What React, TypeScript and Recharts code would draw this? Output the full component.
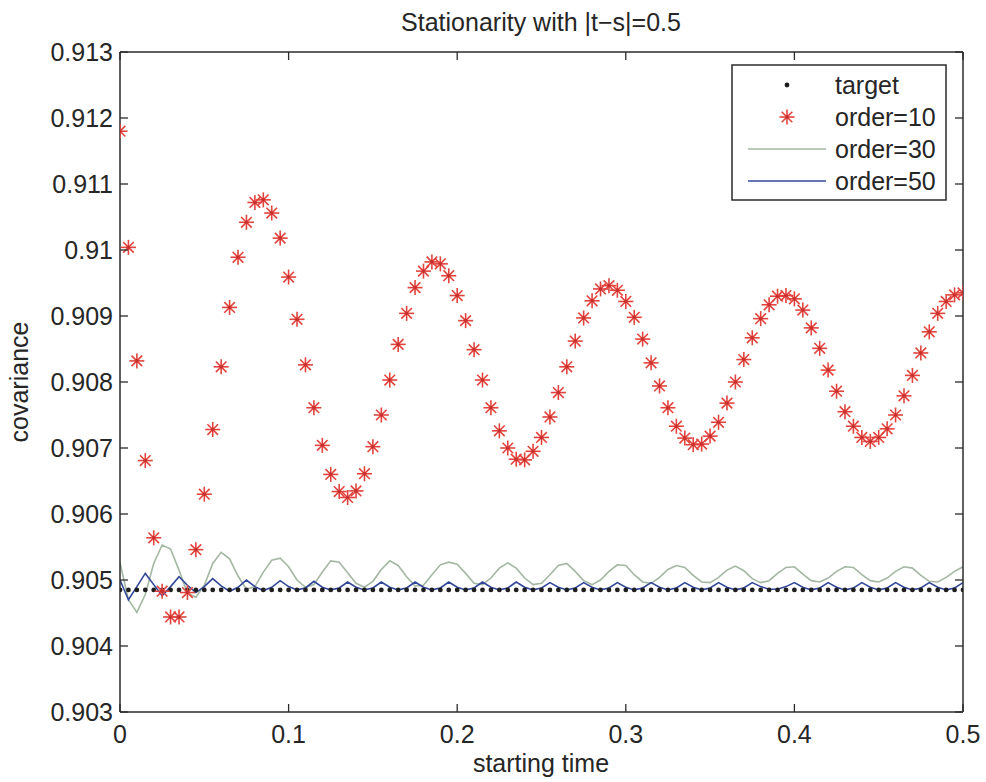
import { ComposedChart, Line, XAxis, YAxis } from 'recharts';

const W = 986;
const H = 782;
const AXIS = '#2b2b2b';
const TEXT = '#262626';
const FONT = '"Liberation Sans", Arial, Helvetica, sans-serif';
const FS = 25;

const STEP = 0.005;
const TARGET_COV = 0.90485;

const xTicks = [0, 0.1, 0.2, 0.3, 0.4, 0.5];
const yTicks = [0.903, 0.904, 0.905, 0.906, 0.907, 0.908, 0.909, 0.91, 0.911, 0.912, 0.913];

// order=10, one value per 0.005 of starting time
const order10 = [
  0.9118, 0.91004, 0.90832, 0.90681, 0.90564, 0.90483, 0.90444, 0.90444, 0.90481, 0.90546,
  0.9063, 0.90728, 0.90823, 0.90913, 0.90989, 0.91042, 0.91072, 0.91076, 0.91056, 0.91018,
  0.90959, 0.90895, 0.90826, 0.90761, 0.90704, 0.9066, 0.90634, 0.90625, 0.90635, 0.90661,
  0.90702, 0.9075, 0.90803, 0.90857, 0.90904, 0.90943, 0.90968, 0.90982, 0.90979, 0.90961,
  0.90931, 0.90893, 0.90849, 0.90803, 0.90761, 0.90726, 0.907, 0.90683, 0.90682, 0.90695,
  0.90716, 0.90747, 0.90784, 0.90823, 0.90862, 0.90897, 0.90923, 0.90941, 0.90946, 0.90939,
  0.90922, 0.90898, 0.90865, 0.90829, 0.90794, 0.90761, 0.90733, 0.90715, 0.90705, 0.90706,
  0.90718, 0.90739, 0.90768, 0.908, 0.90834, 0.90867, 0.90896, 0.90917, 0.9093, 0.90931,
  0.90926, 0.90909, 0.90882, 0.90851, 0.90818, 0.90786, 0.90755, 0.90733, 0.90716, 0.9071,
  0.90716, 0.90729, 0.9075, 0.90779, 0.9081, 0.90844, 0.90876, 0.90904, 0.90922, 0.90932,
  0.90935,
];

const order30 = [
  0.90526, 0.9047, 0.90451, 0.90478, 0.90525, 0.90553, 0.90547, 0.90515, 0.9048, 0.90474,
  0.90492, 0.90525, 0.90542, 0.90532, 0.90506, 0.90486, 0.9049, 0.90512, 0.9053, 0.90533,
  0.9052, 0.905, 0.90489, 0.90493, 0.90512, 0.90529, 0.90527, 0.90511, 0.90495, 0.90489,
  0.90498, 0.90516, 0.90529, 0.90522, 0.90505, 0.90491, 0.90492, 0.90508, 0.90523, 0.90527,
  0.90524, 0.9051, 0.90495, 0.90493, 0.90503, 0.90518, 0.90526, 0.90518, 0.90503, 0.90493,
  0.90495, 0.90508, 0.90522, 0.90525, 0.90513, 0.90499, 0.90493, 0.905, 0.90513, 0.90523,
  0.90522, 0.90508, 0.90497, 0.90495, 0.90504, 0.90516, 0.90522, 0.90519, 0.90507, 0.90497,
  0.90496, 0.90504, 0.90515, 0.90521, 0.90514, 0.90502, 0.90496, 0.90499, 0.9051, 0.90519,
  0.9052, 0.90509, 0.90499, 0.90497, 0.90503, 0.90513, 0.9052, 0.90519, 0.90508, 0.90499,
  0.90497, 0.90503, 0.90513, 0.9052, 0.90518, 0.90507, 0.90498, 0.90497, 0.90504, 0.90513,
  0.9052,
];

const order50 = [
  0.905, 0.9047, 0.9049, 0.9051, 0.90493, 0.90476, 0.9049, 0.90505, 0.90492, 0.90481,
  0.9049, 0.90502, 0.90491, 0.90483, 0.90489, 0.905, 0.9049, 0.90484, 0.90489, 0.90499,
  0.9049, 0.90485, 0.90488, 0.90498, 0.90489, 0.90485, 0.90488, 0.90497, 0.90489, 0.90485,
  0.90488, 0.90497, 0.90489, 0.90485, 0.90488, 0.90497, 0.90489, 0.90485, 0.90488, 0.90497,
  0.90489, 0.90485, 0.90488, 0.90497, 0.90489, 0.90485, 0.90488, 0.90497, 0.90489, 0.90485,
  0.90488, 0.90496, 0.90489, 0.90485, 0.90488, 0.90496, 0.90489, 0.90485, 0.90488, 0.90496,
  0.90489, 0.90485, 0.90488, 0.90496, 0.90489, 0.90485, 0.90488, 0.90496, 0.90489, 0.90485,
  0.90488, 0.90496, 0.90489, 0.90485, 0.90488, 0.90496, 0.9049, 0.90486, 0.90486, 0.9049,
  0.90496, 0.90489, 0.90485, 0.90488, 0.90496, 0.90489, 0.90485, 0.90488, 0.90496, 0.90489,
  0.90485, 0.90488, 0.90496, 0.90489, 0.90485, 0.90488, 0.90496, 0.90489, 0.90485, 0.90488,
  0.90496,
];

const data = order10.map((v, i) => ({
  t: +(i * STEP).toFixed(3),
  target: TARGET_COV,
  o10: v,
  o30: order30[i],
  o50: order50[i],
}));

const fmt = (v: number) => String(+v.toFixed(3));

const TICK_LEN = 8;

const BottomTick = ({ x, y, payload }: any) => (
  <g>
    <line x1={x} x2={x} y1={y} y2={y - TICK_LEN} stroke={AXIS} strokeWidth={1.3} />
    <text x={x} y={y + 31} textAnchor="middle" fontSize={FS} fontFamily={FONT} fill={TEXT}>
      {fmt(payload.value)}
    </text>
  </g>
);

const TopTick = ({ x, y }: any) => (
  <line x1={x} x2={x} y1={y} y2={y + TICK_LEN} stroke={AXIS} strokeWidth={1.3} />
);

const LeftTick = ({ x, y, payload }: any) => (
  <g>
    <line x1={x} x2={x + TICK_LEN} y1={y} y2={y} stroke={AXIS} strokeWidth={1.3} />
    <text x={x - 7} y={y} dy="0.36em" textAnchor="end" fontSize={FS} fontFamily={FONT} fill={TEXT}>
      {fmt(payload.value)}
    </text>
  </g>
);

const RightTick = ({ x, y }: any) => (
  <line x1={x} x2={x - TICK_LEN} y1={y} y2={y} stroke={AXIS} strokeWidth={1.3} />
);

const STAR = '#e2443d';

const Star = ({ cx, cy }: { cx: number; cy: number }) => {
  const r = 7.5;
  const d = r * 0.7071;
  return (
    <g stroke={STAR} strokeWidth={1.6}>
      <line x1={cx - r} x2={cx + r} y1={cy} y2={cy} />
      <line x1={cx} x2={cx} y1={cy - r} y2={cy + r} />
      <line x1={cx - d} x2={cx + d} y1={cy - d} y2={cy + d} />
      <line x1={cx - d} x2={cx + d} y1={cy + d} y2={cy - d} />
      <circle cx={cx} cy={cy} r={1.8} fill="#c8302e" stroke="none" />
    </g>
  );
};

const StarDot = (props: any) =>
  props.cx == null || props.cy == null ? null : <Star key={props.index} cx={props.cx} cy={props.cy} />;

const TargetDot = (props: any) =>
  props.cx == null ? null : <circle key={props.index} cx={props.cx} cy={props.cy} r={2.4} fill="#1e1e1e" />;

const C30 = '#a3b7a2';
const C50 = '#33479a';

const legendRows = [
  { name: 'target', kind: 'dot' },
  { name: 'order=10', kind: 'star' },
  { name: 'order=30', kind: 'line', color: C30 },
  { name: 'order=50', kind: 'line', color: C50 },
];

function LegendBox() {
  return (
    <svg
      width={216}
      height={137}
      style={{ position: 'absolute', left: 731, top: 64 }}
    >
      <rect x={1} y={1} width={214} height={135} fill="#fff" stroke={AXIS} strokeWidth={1.5} />
      {legendRows.map((r, i) => {
        const cy = 21 + i * 32;
        return (
          <g key={r.name}>
            {r.kind === 'dot' && <circle cx={56} cy={cy} r={2.4} fill="#1e1e1e" />}
            {r.kind === 'star' && <Star cx={56} cy={cy} />}
            {r.kind === 'line' && (
              <line x1={17} x2={95} y1={cy} y2={cy} stroke={r.color} strokeWidth={1.6} />
            )}
            <text x={104} y={cy} dy="0.36em" fontSize={FS} fontFamily={FONT} fill={TEXT}>
              {r.name}
            </text>
          </g>
        );
      })}
    </svg>
  );
}

export default function App() {
  return (
    <div style={{ position: 'relative', width: W, height: H, background: '#fff' }}>
      <style>{'body{margin:0}'}</style>
      <ComposedChart
        width={W}
        height={H}
        data={data}
        margin={{ top: 50, right: 21, bottom: 30, left: 50 }}
      >
        <XAxis
          xAxisId="b"
          dataKey="t"
          type="number"
          domain={[0, 0.5]}
          allowDataOverflow
          ticks={xTicks}
          interval={0}
          height={40}
          tickSize={0}
          tickMargin={0}
          tickLine={false}
          tick={<BottomTick />}
          axisLine={{ stroke: AXIS, strokeWidth: 1.5 }}
        />
        <XAxis
          xAxisId="top"
          orientation="top"
          dataKey="t"
          type="number"
          domain={[0, 0.5]}
          allowDataOverflow
          ticks={xTicks}
          interval={0}
          height={2}
          tickSize={0}
          tickMargin={0}
          tickLine={false}
          tick={<TopTick />}
          axisLine={{ stroke: AXIS, strokeWidth: 1.5 }}
        />
        <YAxis
          yAxisId="l"
          type="number"
          domain={[0.903, 0.913]}
          allowDataOverflow
          ticks={yTicks}
          interval={0}
          width={70}
          tickSize={0}
          tickMargin={0}
          tickLine={false}
          tick={<LeftTick />}
          axisLine={{ stroke: AXIS, strokeWidth: 1.5 }}
        />
        <YAxis
          yAxisId="r"
          orientation="right"
          type="number"
          domain={[0.903, 0.913]}
          allowDataOverflow
          ticks={yTicks}
          interval={0}
          width={2}
          tickSize={0}
          tickMargin={0}
          tickLine={false}
          tick={<RightTick />}
          axisLine={{ stroke: AXIS, strokeWidth: 1.5 }}
        />
        <Line
          xAxisId="b"
          yAxisId="l"
          dataKey="target"
          stroke="none"
          dot={<TargetDot />}
          activeDot={false}
          isAnimationActive={false}
        />
        <Line
          xAxisId="b"
          yAxisId="l"
          dataKey="o10"
          stroke="none"
          dot={<StarDot />}
          activeDot={false}
          isAnimationActive={false}
        />
        <Line
          xAxisId="b"
          yAxisId="l"
          type="linear"
          dataKey="o30"
          stroke={C30}
          strokeWidth={1.6}
          dot={false}
          activeDot={false}
          isAnimationActive={false}
        />
        <Line
          xAxisId="top"
          yAxisId="r"
          type="linear"
          dataKey="o50"
          stroke={C50}
          strokeWidth={1.6}
          dot={false}
          activeDot={false}
          isAnimationActive={false}
        />
      </ComposedChart>
      <svg
        width={W}
        height={H}
        style={{ position: 'absolute', left: 0, top: 0, pointerEvents: 'none' }}
        fontFamily={FONT}
        fill={TEXT}
      >
        <text x={541} y={31} textAnchor="middle" fontSize={FS}>
          Stationarity with |t−s|=0.5
        </text>
        <text x={541} y={772} textAnchor="middle" fontSize={FS}>
          starting time
        </text>
        <text
          x={28}
          y={382}
          textAnchor="middle"
          fontSize={FS}
          transform="rotate(-90 28 382)"
        >
          covariance
        </text>
      </svg>
      <LegendBox />
    </div>
  );
}
